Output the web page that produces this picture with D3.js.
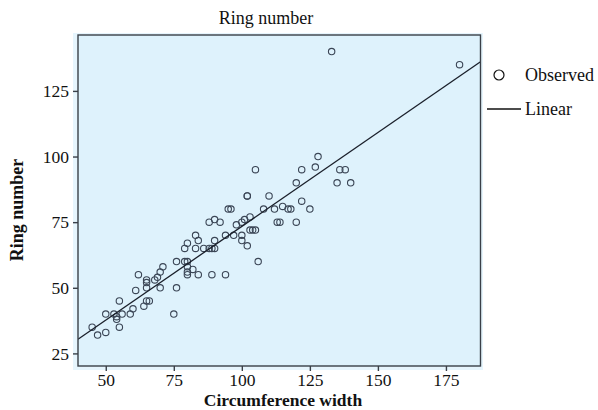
<!DOCTYPE html>
<html><head><meta charset="utf-8">
<script src="https://cdn.jsdelivr.net/npm/d3@7"></script>
<style>body{margin:0;background:#fff}svg{display:block}text{font-family:"Liberation Serif","Times New Roman",serif;fill:#111}</style>
</head><body><svg id="c" width="598" height="410"></svg>
<script>
const circumference = [45,47,50,50,53,54,54,55,55,56,59,60,61,62,64,65,66,65,65,65,68,69,70,71,70,75,76,76,79,80,80,80,80,82,84,89,94,79,80,83,84,83,86,88,89,90,90,88,90,92,94,95,96,97,98,100,101,103,100,100,102,103,104,105,106,102,102,108,105,110,112,115,117,118,113,114,120,122,125,120,122,127,128,136,138,135,140,133,180];
const ringNumber    = [35,32,33,40,40,39,38,35,45,40,40,42,49,55,43,45,45,53,52,50,53,54,56,58,50,40,50,60,60,60,58,56,55,57,55,55,55,65,67,70,68,65,65,65,65,65,68,75,76,75,70,80,80,70,74,75,76,77,70,68,66,72,72,72,60,85,85,80,95,85,80,81,80,80,75,75,75,83,80,90,95,96,100,95,95,90,90,140,135];
const xTicks = [50,75,100,125,150,175];
const yTicks = [25,50,75,100,125];
const xDomain = [39.8,187.7];
const yDomain = [20.2,146.3];
const titleText = "Ring number", xLabel = "Circumference width", yLabel = "Ring number";
const legendItems = ["Observed","Linear"];

const svg = d3.select("#c");
const L=78,R=480.5,T=35,B=366;
const x = d3.scaleLinear().domain(xDomain).range([L,R]);
const y = d3.scaleLinear().domain(yDomain).range([B,T]);

svg.append("rect").attr("x",73).attr("y",33).attr("width",410).attr("height",337).attr("fill","#e6f5fd");
svg.append("rect").attr("x",L).attr("y",T).attr("width",R-L).attr("height",B-T).attr("fill","#def2fc");

// linear fit computed from the observed points
const pts = circumference.map((v,i)=>[v,ringNumber[i]]);
const mx=d3.mean(pts,d=>d[0]), my=d3.mean(pts,d=>d[1]);
const slope=d3.sum(pts,d=>(d[0]-mx)*(d[1]-my))/d3.sum(pts,d=>(d[0]-mx)**2);
const icpt=my-slope*mx;

svg.append("clipPath").attr("id","cp").append("rect").attr("x",L).attr("y",T).attr("width",R-L).attr("height",B-T);
const g = svg.append("g").attr("clip-path","url(#cp)");
g.selectAll("circle").data(pts).join("circle")
 .attr("cx",d=>x(d[0])).attr("cy",d=>y(d[1])).attr("r",3.2)
 .attr("fill","none").attr("stroke","#3b4656").attr("stroke-width",1.1);
g.append("line").attr("x1",x(xDomain[0])).attr("y1",y(icpt+slope*xDomain[0]))
 .attr("x2",x(xDomain[1])).attr("y2",y(icpt+slope*xDomain[1]))
 .attr("stroke","#1a1f2a").attr("stroke-width",1.3);

svg.append("rect").attr("x",L).attr("y",T).attr("width",R-L).attr("height",B-T).attr("fill","none").attr("stroke","#3a4048").attr("stroke-width",1.4);

const xa = svg.append("g").attr("transform",`translate(0,${B})`).call(d3.axisBottom(x).tickValues(xTicks).tickSize(5).tickPadding(3));
const ya = svg.append("g").attr("transform",`translate(${L},0)`).call(d3.axisLeft(y).tickValues(yTicks).tickSize(5).tickPadding(4));
[xa,ya].forEach(a=>{a.select(".domain").remove();a.selectAll("line").attr("stroke","#3a4048").attr("stroke-width",1.4);a.selectAll("text").attr("font-size",17.5).attr("font-family","Liberation Serif").attr("fill","#111");});

svg.append("text").attr("x",266).attr("y",24).attr("text-anchor","middle").attr("font-size",18).text(titleText);
svg.append("text").attr("x",283).attr("y",405.5).attr("text-anchor","middle").attr("font-size",17.5).attr("font-weight","bold").text(xLabel);
svg.append("text").attr("transform","translate(23,210) rotate(-90)").attr("text-anchor","middle").attr("font-size",18).attr("font-weight","bold").text(yLabel);

const lg = svg.append("g");
lg.append("circle").attr("cx",499).attr("cy",75).attr("r",5).attr("fill","none").attr("stroke","#111").attr("stroke-width",1.2);
lg.append("text").attr("x",525).attr("y",81).attr("font-size",18).text(legendItems[0]);
lg.append("line").attr("x1",487).attr("x2",521).attr("y1",109).attr("y2",109).attr("stroke","#111").attr("stroke-width",1.3);
lg.append("text").attr("x",525).attr("y",115).attr("font-size",18).text(legendItems[1]);
</script></body></html>
